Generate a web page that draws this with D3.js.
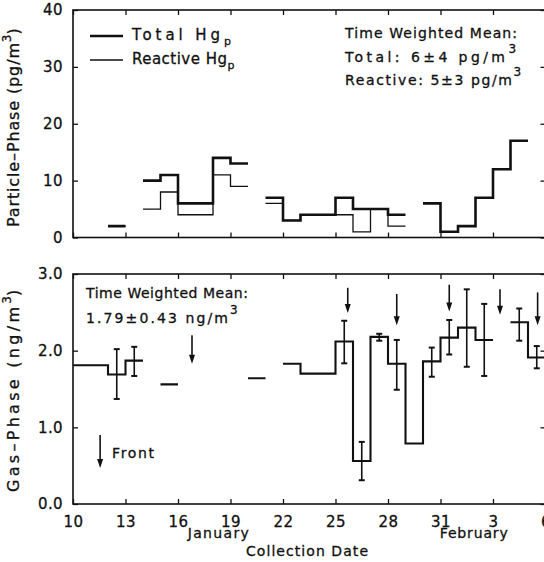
<!DOCTYPE html>
<html>
<head>
<meta charset="utf-8">
<script src="https://cdn.jsdelivr.net/npm/d3@7"></script>
<style>
  body { margin: 0; background: #fff; }
  svg { display: block; font-family: "DejaVu Sans", Arial, sans-serif; font-size: 14px; }
  text { fill: #111; stroke: #111; stroke-width: 0.3px; }
</style>
</head>
<body>
<script>
"use strict"

// particle phase: [start day, end day, value] (days counted from Jan 0; Feb 1 = 32)
var totalHgp = [[12, 13, 2], [14, 15, 10], [15, 16, 11], [16, 18, 6], [18, 19, 14], [19, 20, 13],
  [21, 22, 7], [22, 23, 3], [23, 25, 4], [25, 26, 7], [26, 27, 5], [27, 28, 5], [28, 29, 4],
  [30, 31, 6], [31, 32, 1], [32, 33, 2], [33, 34, 7], [34, 35, 12], [35, 36, 17]];
var reactiveHgp = [[12, 13, 2], [14, 15, 5], [15, 16, 8], [16, 18, 4], [18, 19, 11], [19, 20, 9],
  [21, 22, 6], [22, 23, 3], [23, 25, 4], [25, 26, 4], [26, 27, 1], [27, 28, 5], [28, 29, 2]];

// gas phase
var gasHg = [[10, 12, 1.81], [12, 13, 1.69], [13, 14, 1.87], [15, 16, 1.56], [20, 21, 1.64],
  [22, 23, 1.83], [23, 25, 1.70], [25, 26, 2.12], [26, 27, 0.56], [27, 28, 2.18], [28, 29, 1.83],
  [29, 30, 0.79], [30, 31, 1.86], [31, 32, 2.17], [32, 33, 2.30], [33, 34, 2.14], [35, 36, 2.37], [36, 37, 1.91]];
// error bars: [day, low, high]
var gasErr = [[12.5, 1.37, 2.02], [13.5, 1.67, 2.05], [25.5, 1.835, 2.39], [26.5, 0.31, 0.81],
  [27.5, 2.13, 2.22], [28.5, 1.49, 2.14], [30.5, 1.66, 2.04], [31.5, 1.95, 2.40], [32.5, 1.79, 2.80],
  [33.5, 1.67, 2.61], [35.5, 2.13, 2.55], [36.5, 1.77, 2.06]];
// front arrows: [day, top, tip]
var fronts = [[16.8, 2.20, 1.83], [25.7, 2.82, 2.49], [28.5, 2.74, 2.33], [31.5, 2.86, 2.51],
  [34.4, 2.80, 2.47], [36.55, 2.76, 2.33]];
var frontKey = [11.55, 0.90, 0.47];

var xTicks = [10, 13, 16, 19, 22, 25, 28, 31, 34, 37];
var topTicks = [0, 10, 20, 30, 40];
var botTicks = [0, 1, 2, 3];
var months = [["January", 18.3], ["February", 32.9]];

var W = 544, H = 562;
var svg = d3.select("body").append("svg").attr("width", W).attr("height", H);
svg.append("rect").attr("width", W).attr("height", H).attr("fill", "#fff");

var x = d3.scaleLinear().domain([10, 37]).range([73, 545.5]);
var yTop = d3.scaleLinear().domain([0, 40]).range([237.5, 10]);
var yBot = d3.scaleLinear().domain([0, 3]).range([504, 274]);

// contiguous segments -> one step path, gaps start a new subpath
function stepPath(segs, y){
  var d = "", prevEnd = null;
  segs.forEach(function(s){
    if(prevEnd === s[0]) d += "V" + y(s[2]) + "H" + x(s[1]);
    else d += "M" + x(s[0]) + "," + y(s[2]) + "H" + x(s[1]);
    prevEnd = s[1];
  });
  return d;
}

function frame(y, yt, fmtY){
  var g = svg.append("g");
  var r = y.range();
  g.append("rect").attr("x", x(10)).attr("y", r[1]).attr("width", x(37) - x(10)).attr("height", r[0] - r[1])
    .attr("fill", "none").attr("stroke", "#111").attr("stroke-width", 1.6);
  var ax = [
    g.append("g").attr("transform", "translate(0," + r[0] + ")").call(d3.axisBottom(x).tickValues(xTicks).tickSize(-5).tickFormat("")),
    g.append("g").attr("transform", "translate(0," + r[1] + ")").call(d3.axisTop(x).tickValues(xTicks).tickSize(-5).tickFormat("")),
    g.append("g").attr("transform", "translate(" + x(10) + ",0)").call(d3.axisLeft(y).tickValues(yt).tickSize(-5).tickPadding(10).tickFormat(fmtY)),
    g.append("g").attr("transform", "translate(" + x(37) + ",0)").call(d3.axisRight(y).tickValues(yt).tickSize(-5).tickFormat(""))
  ];
  ax.forEach(function(a){
    a.attr("font-family", null).attr("font-size", 15);
    a.select(".domain").remove();
    a.selectAll("line").attr("stroke", "#111").attr("stroke-width", 1.3);
    a.selectAll("text").attr("fill", "#111").attr("letter-spacing", 0.4);
  });
  return g;
}

// text with a stretched main part and an optional raised/lowered small part
function label(px, py, main, len, small, shift, anchor, size){
  var t = svg.append("text").attr("x", px).attr("y", py).attr("text-anchor", anchor || "start");
  if(size) t.attr("font-size", size);
  t.append("tspan").attr("textLength", len).attr("lengthAdjust", "spacing").text(main);
  if(small) t.append("tspan").attr("dy", shift).attr("font-size", shift < 0 ? 12 : 11).text(small);
  return t;
}

// ---- top panel
frame(yTop, topTicks, d3.format("d"));
svg.append("path").attr("d", stepPath(reactiveHgp, yTop)).attr("fill", "none").attr("stroke", "#111").attr("stroke-width", 1.3);
svg.append("path").attr("d", stepPath(totalHgp, yTop)).attr("fill", "none").attr("stroke", "#111").attr("stroke-width", 2.6);

svg.append("line").attr("x1", 90).attr("x2", 123).attr("y1", 36).attr("y2", 36).attr("stroke", "#111").attr("stroke-width", 2.6);
svg.append("line").attr("x1", 90).attr("x2", 123).attr("y1", 60).attr("y2", 60).attr("stroke", "#111").attr("stroke-width", 1.3);
label(132, 40, "Total Hg", 88, "p", 5, "start", 15);
label(132, 64, "Reactive Hg", 95, "p", 5, "start", 15);

label(345, 38, "Time Weighted Mean:", 172);
label(345, 62, "Total: 6\u00b14 pg/m", 160, "3", -9);
label(345, 85, "Reactive: 5\u00b13 pg/m", 167, "3", -9);

var yl1 = svg.append("text").attr("transform", "translate(19,227) rotate(-90)").attr("font-size", 16);
yl1.append("tspan").attr("textLength", 184).attr("lengthAdjust", "spacing").text("Particle\u2013Phase (pg/m");
yl1.append("tspan").attr("dy", -8).attr("font-size", 12).text("3");
yl1.append("tspan").attr("dy", 8).text(")");

// ---- bottom panel
frame(yBot, botTicks, d3.format(".1f"));
var xa = svg.append("g").attr("transform", "translate(0," + yBot(0) + ")")
  .call(d3.axisBottom(x).tickValues(xTicks).tickSize(0).tickPadding(12).tickFormat(function(d){ return d > 31 ? d - 31 : d; }));
xa.attr("font-family", null).attr("font-size", 15);
xa.select(".domain").remove();
xa.selectAll("text").attr("fill", "#111").attr("letter-spacing", 0.4);

svg.append("path").attr("d", stepPath(gasHg, yBot)).attr("fill", "none").attr("stroke", "#111").attr("stroke-width", 2.1);

var eb = svg.append("g").attr("stroke", "#111").attr("stroke-width", 1.6);
gasErr.forEach(function(e){
  var cx = x(e[0]);
  eb.append("line").attr("x1", cx).attr("x2", cx).attr("y1", yBot(e[1])).attr("y2", yBot(e[2]));
  eb.append("line").attr("x1", cx - 3).attr("x2", cx + 3).attr("y1", yBot(e[1])).attr("y2", yBot(e[1])).attr("stroke-width", 2);
  eb.append("line").attr("x1", cx - 3).attr("x2", cx + 3).attr("y1", yBot(e[2])).attr("y2", yBot(e[2])).attr("stroke-width", 2);
});

function arrow(a){
  var cx = x(a[0]), y0 = yBot(a[1]), y1 = yBot(a[2]);
  svg.append("line").attr("x1", cx).attr("x2", cx).attr("y1", y0).attr("y2", y1 - 6).attr("stroke", "#111").attr("stroke-width", 1.6);
  svg.append("path").attr("d", "M" + (cx - 3) + "," + (y1 - 9) + "L" + (cx + 3) + "," + (y1 - 9) + "L" + cx + "," + y1 + "Z").attr("fill", "#111");
}
fronts.forEach(arrow);
arrow(frontKey);
label(112, 458, "Front", 42);

label(86, 298, "Time Weighted Mean:", 162);
label(86, 323, "1.79\u00b10.43 ng/m", 142, "3", -9);

var yl2 = svg.append("text").attr("transform", "translate(19,492) rotate(-90)").attr("font-size", 16);
yl2.append("tspan").attr("textLength", 185).attr("lengthAdjust", "spacing").text("Gas\u2013Phase (ng/m");
yl2.append("tspan").attr("dy", -8).attr("font-size", 12).text("3");
yl2.append("tspan").attr("dy", 8).text(")");

months.forEach(function(m, i){
  label(x(m[1]), 538, m[0], i ? 68 : 61, null, 0, "middle");
});
label(307, 556, "Collection Date", 122, null, 0, "middle");
</script>
</body>
</html>
